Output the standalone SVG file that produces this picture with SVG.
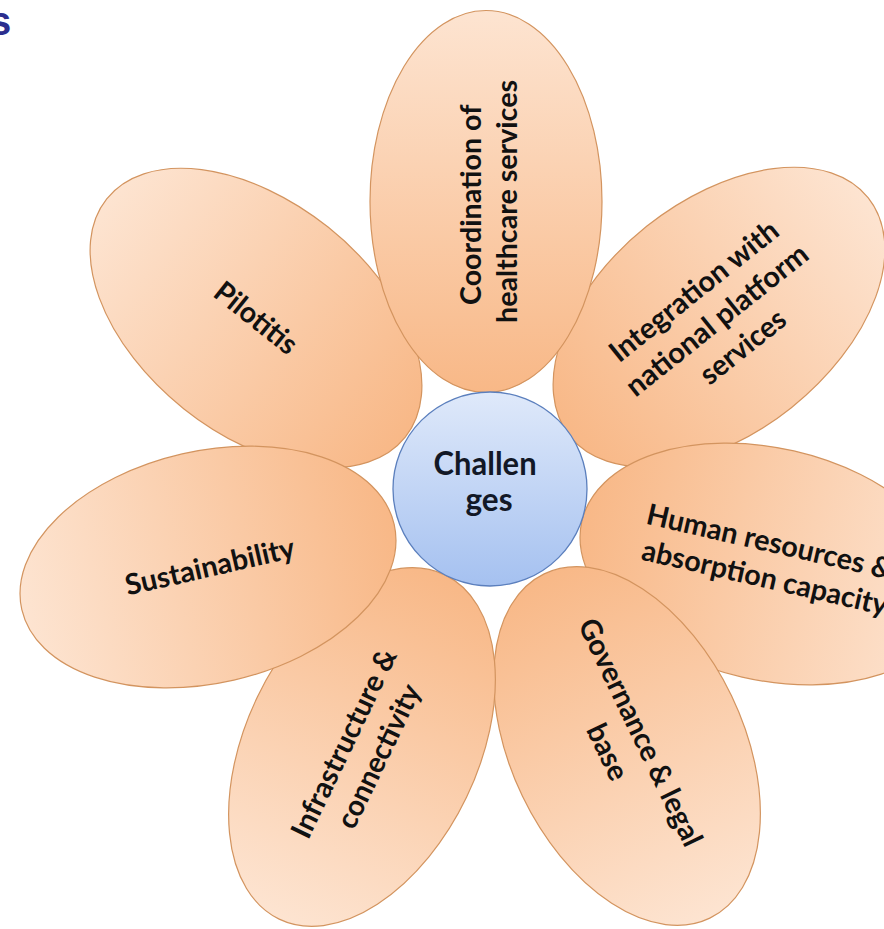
<svg xmlns="http://www.w3.org/2000/svg" width="884" height="929" viewBox="0 0 884 929">
  <defs>
    <linearGradient id="petalGrad" x1="0" y1="0" x2="0" y2="1">
      <stop offset="0" stop-color="#fde4d1"/>
      <stop offset="1" stop-color="#f8b887"/>
    </linearGradient>
    <linearGradient id="hubGrad" x1="0" y1="0" x2="0" y2="1">
      <stop offset="0" stop-color="#dfe9fa"/>
      <stop offset="1" stop-color="#a5c1f0"/>
    </linearGradient>
  </defs>
  <style>
    .petal { fill: url(#petalGrad); stroke: #d3945f; stroke-width: 1.2; }
    .hub { fill: url(#hubGrad); stroke: #5b7fbd; stroke-width: 1.3; }
    .lbl { font-family: Lato, "Open Sans", "Liberation Sans", sans-serif; font-weight: 700; font-size: 29px; fill: #111111; text-anchor: middle; }
    .hublbl { font-family: Lato, "Open Sans", "Liberation Sans", sans-serif; font-weight: 700; font-size: 32px; fill: #121826; text-anchor: middle; }
    .title { font-family: "Liberation Sans", Arial, sans-serif; font-weight: 700; font-size: 40px; fill: #2b2e8e; }
  </style>

  <text class="title" x="-11" y="35">s</text>

  <g id="connectors"></g>

  <g id="node-pilotitis" transform="translate(256,318)">
    <ellipse class="petal" rx="116" ry="191" transform="rotate(-51.4)"/>
    <text class="lbl" transform="rotate(38.6)">
      <tspan x="0" y="10" textLength="97" lengthAdjust="spacingAndGlyphs">Pilotitis</tspan>
    </text>
  </g>

  <g id="node-integration" transform="translate(719,317)">
    <ellipse class="petal" rx="116" ry="191" transform="rotate(51.4)"/>
    <text class="lbl" transform="rotate(-38.6)">
      <tspan x="0" y="-26" textLength="207" lengthAdjust="spacingAndGlyphs">Integration with</tspan>
      <tspan x="0" y="11" textLength="224" lengthAdjust="spacingAndGlyphs">national platform</tspan>
      <tspan x="0" y="48" textLength="101" lengthAdjust="spacingAndGlyphs">services</tspan>
    </text>
  </g>

  <g id="node-coordination" transform="translate(486,201.5)">
    <ellipse class="petal" rx="116" ry="191"/>
    <text class="lbl" transform="rotate(-90)">
      <tspan x="0" y="-5.5" textLength="200" lengthAdjust="spacingAndGlyphs">Coordination of</tspan>
      <tspan x="0" y="30.5" textLength="243" lengthAdjust="spacingAndGlyphs">healthcare services</tspan>
    </text>
  </g>

  <g id="node-human-resources" transform="translate(768,564)">
    <ellipse class="petal" rx="116" ry="191" transform="rotate(102.9)"/>
    <text class="lbl" transform="rotate(12.9)">
      <tspan x="0" y="-12" textLength="251" lengthAdjust="spacingAndGlyphs">Human resources &amp;</tspan>
      <tspan x="0" y="24" textLength="251" lengthAdjust="spacingAndGlyphs">absorption capacity</tspan>
    </text>
  </g>

  <g id="node-governance" transform="translate(627,746)">
    <ellipse class="petal" rx="116" ry="191" transform="rotate(154.3)"/>
    <text class="lbl" transform="rotate(64.3)">
      <tspan x="-3" y="-8" textLength="249" lengthAdjust="spacingAndGlyphs">Governance &amp; legal</tspan>
      <tspan x="-3" y="30" textLength="59" lengthAdjust="spacingAndGlyphs">base</tspan>
    </text>
  </g>

  <g id="node-infrastructure" transform="translate(362,747)">
    <ellipse class="petal" rx="116" ry="191" transform="rotate(-154.3)"/>
    <text class="lbl" transform="rotate(-64.3)">
      <tspan x="-1" y="-8" textLength="206" lengthAdjust="spacingAndGlyphs">Infrastructure &amp;</tspan>
      <tspan x="-1" y="29" textLength="156" lengthAdjust="spacingAndGlyphs">connectivity</tspan>
    </text>
  </g>

  <g id="node-sustainability" transform="translate(208,567)">
    <ellipse class="petal" rx="116" ry="191" transform="rotate(-102.9)"/>
    <text class="lbl" transform="rotate(-12.9)">
      <tspan x="2" y="10" textLength="173" lengthAdjust="spacingAndGlyphs">Sustainability</tspan>
    </text>
  </g>

  <g id="node-challenges">
    <circle class="hub" cx="490" cy="489" r="97"/>
    <text class="hublbl">
      <tspan x="489" y="475" textLength="103" lengthAdjust="spacingAndGlyphs">Challen</tspan>
      <tspan x="489" y="511" textLength="47" lengthAdjust="spacingAndGlyphs">ges</tspan>
    </text>
  </g>
</svg>
